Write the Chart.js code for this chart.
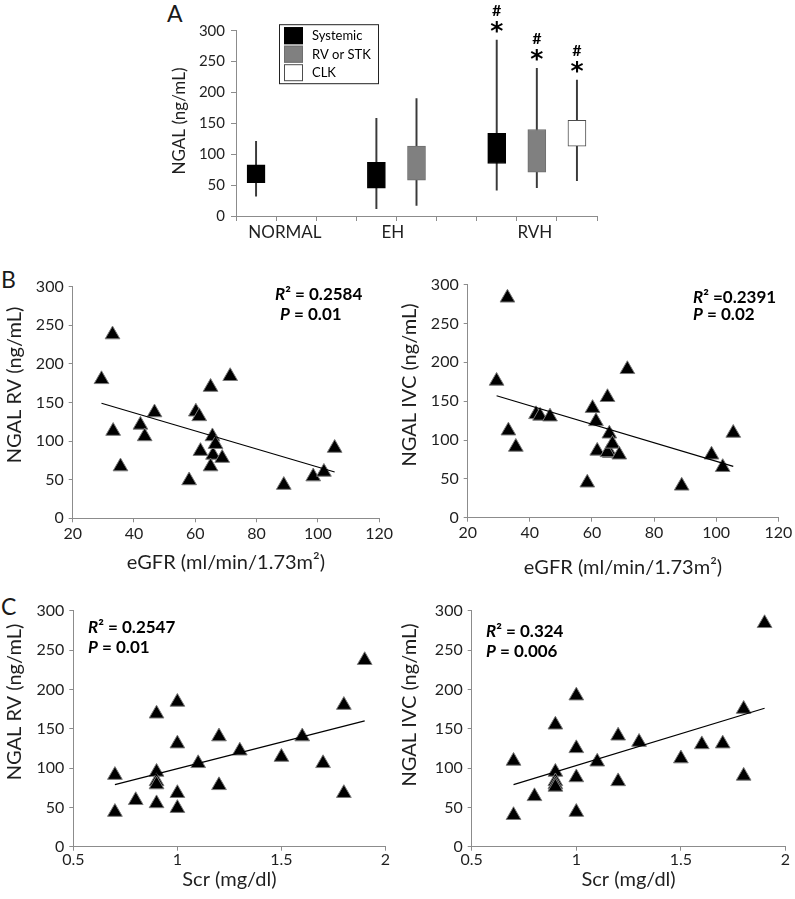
<!DOCTYPE html>
<html>
<head>
<meta charset="utf-8">
<script src="https://cdn.jsdelivr.net/npm/chart.js@4.4.0/dist/chart.umd.min.js"></script>
<style>
  body { margin: 0; background: #fff; width: 795px; height: 899px; position: relative; overflow: hidden; font-family: Lato, "Open Sans", sans-serif; }
  canvas { position: absolute; }
  .tag { position: absolute; font-size: 23px; color: #1a1a1a; line-height: 1; }
</style>
</head>
<body>
<div class="tag" style="left:167px;top:2px">A</div>
<div class="tag" style="left:1px;top:268px">B</div>
<div class="tag" style="left:1px;top:595px">C</div>
<canvas id="chartA" width="500" height="265" style="left:150px;top:0"></canvas>
<canvas id="chartB1" width="395" height="320" style="left:0;top:270px"></canvas>
<canvas id="chartB2" width="400" height="320" style="left:395px;top:270px"></canvas>
<canvas id="chartC1" width="395" height="309" style="left:0;top:590px"></canvas>
<canvas id="chartC2" width="400" height="309" style="left:395px;top:590px"></canvas>
<script>
const FONT = "Lato, 'Open Sans', sans-serif"
const TEXT = "#1f1f1f"
const AXIS = "#8c8c8c"

// Panel A: NGAL per group (box = interquartile range, line = range)
const seriesNames = ["Systemic", "RV or STK", "CLK"]
const groupLabels = ["NORMAL", "EH", "RVH"]
const groupCenters = [1.22, 3.91, 7.45]
const boxSlots = [0.5, 3.5, 4.5, 6.5, 7.5, 8.5]
const boxSeries = [0, 0, 1, 0, 1, 2]
const boxLow = [54, 45, 58, 85, 71, 113]
const boxHigh = [83, 87, 113, 134, 140, 155]
const whiskerLow = [32, 12, 17, 42, 46, 57]
const whiskerHigh = [121, 158, 190, 285, 239, 220]
const significant = [false, false, false, true, true, true]

// Panel B: NGAL vs eGFR
const egfrRv = [29.4, 33.0, 33.2, 35.6, 42.1, 43.5, 46.7, 58.0, 60.2, 61.3, 61.7, 65.0, 65.6, 65.8, 65.0, 66.6, 68.8, 71.4, 88.9, 98.5, 102.0, 105.5]
const ngalRvByEgfr = [180, 238, 113, 67, 121, 106, 137, 49, 138, 132, 87, 170, 106, 82, 67, 96, 78, 184, 43, 54, 60, 91]
const egfrIvc = [29.3, 32.8, 33.1, 35.5, 42.0, 43.3, 46.5, 58.5, 60.2, 61.3, 61.7, 65.0, 65.6, 65.8, 65.0, 66.6, 68.8, 71.4, 88.9, 98.5, 102.1, 105.5]
const ngalIvcByEgfr = [176, 283, 112, 91, 133, 131, 130, 45, 141, 124, 86, 155, 108, 83, 84, 95, 81, 191, 41, 81, 65, 109]

// Panel C: NGAL vs serum creatinine
const scr = [0.7, 0.7, 0.8, 0.9, 0.9, 0.9, 0.9, 0.9, 1.0, 1.0, 1.0, 1.0, 1.1, 1.2, 1.2, 1.3, 1.5, 1.6, 1.7, 1.8, 1.8, 1.9]
const ngalRvByScr = [91, 44, 59, 169, 95, 83, 79, 55, 184, 131, 68, 49, 106, 140, 78, 122, 114, 140, 106, 180, 68, 237]
const ngalIvcByScr = [109, 40, 64, 155, 95, 83, 79, 76, 192, 125, 88, 44, 108, 141, 83, 133, 112, 130, 131, 175, 90, 284]

// trend line end points
const trendB1 = [[29.4, 149], [105.5, 60]]
const trendB2 = [[29.3, 157], [105.5, 66]]
const trendC1 = [[0.7, 79], [1.9, 160]]
const trendC2 = [[0.7, 79], [1.9, 176]]

const rSquared = ["² = 0.2584", "² =0.2391", "² = 0.2547", "² = 0.324"]
const pValues = [" = 0.01", " = 0.02", " = 0.01", " = 0.006"]

const seriesStyle = [
  { fill: "#000000", border: "#000000" },
  { fill: "#808080", border: "#6e6e6e" },
  { fill: "#ffffff", border: "#4d4d4d" },
]

function font(size, weight) {
  return (weight || "normal") + " " + size + "px " + FONT
}

function rotatedTitle(ctx, text, x, y, size) {
  ctx.save()
  ctx.translate(x, y)
  ctx.rotate(-Math.PI / 2)
  ctx.font = font(size)
  ctx.fillStyle = TEXT
  ctx.textAlign = "center"
  ctx.textBaseline = "middle"
  ctx.fillText(text, 0, 0)
  ctx.restore()
}

/**
 * Extras for panel A: legend inside the plot, group names, significance marks
 */
const panelAExtras = {
  id: "panelAExtras",
  afterDraw(chart) {
    const { ctx, chartArea } = chart
    const xs = chart.scales.x
    const ys = chart.scales.y

    // legend
    const lx = chartArea.left + 43
    const ly = chartArea.top - 6.5
    ctx.save()
    ctx.fillStyle = "#fff"
    ctx.fillRect(lx, ly, 99, 59)
    ctx.strokeStyle = "#222"
    ctx.lineWidth = 1
    ctx.strokeRect(lx + 0.5, ly + 0.5, 99, 59)
    seriesNames.forEach((name, i) => {
      const cy = ly + 11 + i * 18.5
      ctx.fillStyle = seriesStyle[i].fill
      ctx.fillRect(lx + 5, cy - 8, 19, 17)
      ctx.strokeStyle = seriesStyle[i].border
      ctx.strokeRect(lx + 5.5, cy - 7.5, 18, 16)
      ctx.fillStyle = "#000"
      ctx.font = font(13)
      ctx.textAlign = "left"
      ctx.textBaseline = "middle"
      ctx.fillText(name, lx + 33, cy + 1)
    })

    // group names under the axis
    ctx.fillStyle = TEXT
    ctx.font = font(17)
    ctx.textAlign = "center"
    groupLabels.forEach((g, i) => {
      ctx.fillText(g, xs.getPixelForValue(groupCenters[i]), chartArea.bottom + 17)
    })

    // # and * over the RVH ranges
    ctx.fillStyle = "#000"
    ctx.textBaseline = "alphabetic"
    boxSlots.forEach((slot, i) => {
      if (!significant[i]) return
      const px = xs.getPixelForValue(slot)
      const top = ys.getPixelForValue(whiskerHigh[i])
      ctx.font = "bold 25px 'DejaVu Sans', sans-serif"
      ctx.fillText("*", px, top - 1)
      ctx.font = font(16, "bold")
      ctx.fillText("#", px, top - 24)
    })

    rotatedTitle(ctx, "NGAL (ng/mL)", 30, 121, 17)
    ctx.restore()
  },
}

const whiskerData = boxSlots.map((x, i) => ({ x, y: [whiskerLow[i], whiskerHigh[i]] }))

new Chart(document.getElementById("chartA"), {
  type: "bar",
  data: {
    datasets: [
      {
        label: "range",
        data: whiskerData,
        backgroundColor: "#3a3a3a",
        barThickness: 1.3,
        grouped: false,
        order: 2,
      },
      ...seriesNames.map((name, s) => ({
        label: name,
        data: boxSlots
          .map((x, i) => ({ x, y: [boxLow[i], boxHigh[i]], s: boxSeries[i] }))
          .filter((d) => d.s === s),
        backgroundColor: seriesStyle[s].fill,
        borderColor: seriesStyle[s].border,
        borderWidth: 1,
        borderSkipped: false,
        barThickness: 18,
        grouped: false,
        order: 1,
      })),
    ],
  },
  options: {
    responsive: false,
    animation: false,
    layout: { padding: { left: 0, top: 30.7, right: 53, bottom: 0 } },
    plugins: { legend: { display: false }, tooltip: { enabled: false } },
    scales: {
      x: {
        type: "linear",
        min: 0,
        max: 9,
        offset: false,
        afterFit: (scale) => { scale.height = 49 },
        ticks: { stepSize: 1, callback: () => "" },
        grid: { drawOnChartArea: false, tickLength: 5, color: AXIS, offset: false },
        border: { color: AXIS },
      },
      y: {
        min: 0,
        max: 300,
        afterFit: (scale) => { scale.width = 86 },
        ticks: { stepSize: 50, padding: 6, color: TEXT, font: { family: FONT, size: 15 } },
        grid: { drawOnChartArea: false, tickLength: 5, color: AXIS },
        border: { color: AXIS },
      },
    },
  },
  plugins: [panelAExtras],
})

/**
 * Scatter panel with a linear trend line and R²/P note
 */
function scatterPanel(id, cfg) {
  const notes = {
    id: "notes",
    afterDraw(chart) {
      const ctx = chart.ctx
      ctx.save()
      rotatedTitle(ctx, cfg.yTitle, cfg.yTitleAt[0], cfg.yTitleAt[1], 20)
      ctx.fillStyle = "#000"
      ctx.textAlign = "left"
      ctx.textBaseline = "middle"
      const lines = [["R", cfg.r2], ["P", cfg.p]]
      lines.forEach(([sym, rest], i) => {
        const [x, y] = cfg.noteAt[i]
        ctx.font = "italic bold 17px " + FONT
        ctx.fillText(sym, x, y)
        const w = ctx.measureText(sym).width
        ctx.font = font(17, "bold")
        ctx.fillText(rest, x + w, y)
      })
      ctx.restore()
    },
  }

  new Chart(document.getElementById(id), {
    type: "scatter",
    data: {
      datasets: [
        {
          type: "line",
          data: cfg.trend.map(([x, y]) => ({ x, y })),
          borderColor: "#000",
          borderWidth: 1.2,
          pointRadius: 0,
          showLine: true,
          order: 0,
        },
        {
          data: cfg.x.map((x, i) => ({ x, y: cfg.y[i] })),
          pointStyle: "triangle",
          pointRadius: 8.5,
          backgroundColor: "#000",
          borderColor: "#7a7a7a",
          borderWidth: 1,
          order: 1,
        },
      ],
    },
    options: {
      responsive: false,
      animation: false,
      layout: { padding: { left: 0, top: cfg.top, right: cfg.right, bottom: 0 } },
      plugins: { legend: { display: false }, tooltip: { enabled: false } },
      scales: {
        x: {
          type: "linear",
          min: cfg.xMin,
          max: cfg.xMax,
          afterFit: (scale) => { scale.height = cfg.xHeight },
          ticks: {
            stepSize: cfg.xStep,
            padding: cfg.xPad,
            color: TEXT,
            font: { family: FONT, size: 16 },
            callback: (v) => String(+v.toFixed(2)),
          },
          grid: { drawOnChartArea: false, tickLength: 4, color: AXIS },
          border: { color: AXIS },
          title: {
            display: true,
            text: cfg.xTitle,
            color: TEXT,
            font: { family: FONT, size: 20 },
            padding: { top: 0, bottom: cfg.xTitlePad },
          },
        },
        y: {
          min: 0,
          max: 300,
          afterFit: (scale) => { scale.width = cfg.yWidth },
          ticks: { stepSize: 50, padding: 5, color: TEXT, font: { family: FONT, size: 16 } },
          grid: { drawOnChartArea: false, tickLength: 4, color: AXIS },
          border: { color: AXIS },
        },
      },
    },
    plugins: [notes],
  })
}

const egfrTitle = "eGFR (ml/min/1.73m²)"
const scrTitle = "Scr (mg/dl)"

scatterPanel("chartB1", {
  x: egfrRv, y: ngalRvByEgfr, trend: trendB1,
  xMin: 20, xMax: 120, xStep: 20, xTitle: egfrTitle, yTitle: "NGAL RV (ng/mL)",
  r2: rSquared[0], p: pValues[0],
  top: 16.7, right: 14.3, yWidth: 72.7, xHeight: 71.7, xPad: 2, xTitlePad: 15,
  yTitleAt: [15, 115], noteAt: [[275, 25], [280, 45]],
})
scatterPanel("chartB2", {
  x: egfrIvc, y: ngalIvcByEgfr, trend: trendB2,
  xMin: 20, xMax: 120, xStep: 20, xTitle: egfrTitle, yTitle: "NGAL IVC (ng/mL)",
  r2: rSquared[1], p: pValues[1],
  top: 8.3, right: 16.7, yWidth: 72.7, xHeight: 72.3, xPad: 2, xTitlePad: 10,
  yTitleAt: [15, 115], noteAt: [[298, 28], [298, 45]],
})
scatterPanel("chartC1", {
  x: scr, y: ngalRvByScr, trend: trendC1,
  xMin: 0.5, xMax: 2, xStep: 0.5, xTitle: scrTitle, yTitle: "NGAL RV (ng/mL)",
  r2: rSquared[2], p: pValues[2],
  top: 20.7, right: 5, yWidth: 73.3, xHeight: 52.3, xPad: 0, xTitlePad: 7,
  yTitleAt: [15, 112], noteAt: [[88, 38], [88, 58]],
})
scatterPanel("chartC2", {
  x: scr, y: ngalIvcByScr, trend: trendC2,
  xMin: 0.5, xMax: 2, xStep: 0.5, xTitle: scrTitle, yTitle: "NGAL IVC (ng/mL)",
  r2: rSquared[3], p: pValues[3],
  top: 20.7, right: 6.7, yWidth: 76.7, xHeight: 52.3, xPad: 0, xTitlePad: 7,
  yTitleAt: [15, 115], noteAt: [[91, 42], [91, 62]],
})
</script>
</body>
</html>
